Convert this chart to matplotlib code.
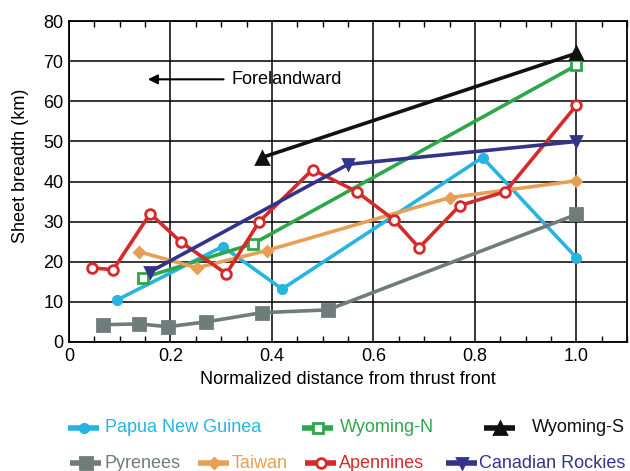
import matplotlib
matplotlib.use("Agg")
import matplotlib.pyplot as plt
from matplotlib.lines import Line2D
from matplotlib.ticker import MultipleLocator

plt.rcParams["font.family"] = ["Liberation Sans", "DejaVu Sans"]

# Sheet breadth vs normalized distance
png_x = [0.095, 0.303, 0.42, 0.815, 1.0]
png_y = [10.5, 23.8, 13.2, 46.0, 21.0]

wyn_x = [0.146, 0.363, 1.0]
wyn_y = [16.0, 24.5, 69.0]

wys_x = [0.38, 1.0]
wys_y = [46.0, 72.0]

pyr_x = [0.067, 0.138, 0.195, 0.27, 0.38, 0.51, 1.0]
pyr_y = [4.3, 4.5, 3.8, 5.0, 7.3, 8.0, 31.8]

tai_x = [0.138, 0.252, 0.39, 0.75, 1.0]
tai_y = [22.5, 18.5, 22.8, 36.0, 40.2]

ape_x = [0.045, 0.087, 0.16, 0.22, 0.31, 0.375, 0.48, 0.567, 0.64, 0.69, 0.77, 0.86, 1.0]
ape_y = [18.5, 18.0, 32.0, 25.0, 17.0, 30.0, 43.0, 37.5, 30.5, 23.5, 34.0, 37.5, 59.0]

can_x = [0.16, 0.55, 1.0]
can_y = [17.5, 44.3, 50.0]

series = [
    ("Papua New Guinea", png_x, png_y, "#27b4e0", "o", 6, True),
    ("Wyoming-N", wyn_x, wyn_y, "#2fa64a", "s", 7, False),
    ("Wyoming-S", wys_x, wys_y, "#111111", "^", 8, True),
    ("Pyrenees", pyr_x, pyr_y, "#6f7c7a", "s", 8, True),
    ("Taiwan", tai_x, tai_y, "#e69f55", "D", 5.5, True),
    ("Apennines", ape_x, ape_y, "#d42a2a", "o", 7, False),
    ("Canadian Rockies", can_x, can_y, "#34338a", "v", 7.5, True),
]

fig = plt.figure(figsize=(6.3, 4.71), dpi=100)
ax = fig.add_axes([0.1095, 0.274, 0.886, 0.681])

for name, xs, ys, col, mk, ms, filled in series:
    ax.plot(xs, ys, color=col, lw=2.6, marker=mk, ms=ms,
            mfc=col if filled else "white", mec=col, mew=2.0, zorder=3)

ax.set_xlim(0, 1.1)
ax.set_ylim(0, 80)
ax.xaxis.set_minor_locator(MultipleLocator(0.05))
ax.yaxis.set_major_locator(MultipleLocator(10))
ax.set_xticks([0, 0.2, 0.4, 0.6, 0.8, 1.0])
ax.set_xticklabels(["0", "0.2", "0.4", "0.6", "0.8", "1.0"])
ax.grid(True, which="major", color="black", lw=1.1, zorder=1)
ax.tick_params(which="both", direction="in", top=True, labelsize=13)
ax.tick_params(which="major", length=0, pad=4)
ax.tick_params(which="minor", length=4, width=1)
for sp in ax.spines.values():
    sp.set_linewidth(1.3)

ax.set_xlabel("Normalized distance from thrust front", fontsize=13, labelpad=5)
ax.set_ylabel("Sheet breadth (km)", fontsize=13)
ax.yaxis.set_label_coords(-0.072, 0.55)

ax.annotate("", xy=(0.15, 65.5), xytext=(0.31, 65.5),
            arrowprops=dict(arrowstyle="-|>", color="black", lw=1.5, mutation_scale=14))
ax.text(0.32, 65.5, "Forelandward", fontsize=13, va="center", ha="left")

# legend entries placed by hand, as in the original: (line start, text start, y)
leg_pos = {
    "Papua New Guinea": (68, 105, 428), "Wyoming-N": (302, 340, 428),
    "Wyoming-S": (484, 532, 428),
    "Pyrenees": (70, 105, 463), "Taiwan": (198, 232, 463),
    "Apennines": (305, 339, 463), "Canadian Rockies": (446, 479, 463),
}
W, H = 630, 471
for name, xs, ys, col, mk, ms, filled in series:
    px, tx, py = leg_pos[name]
    fx0, fx1, fy = px / W, (px + 31) / W, 1 - py / H
    fig.add_artist(Line2D([fx0, fx1], [fy, fy], transform=fig.transFigure,
                          color=col, lw=4, solid_capstyle="butt"))
    fig.add_artist(Line2D([(fx0 + fx1) / 2], [fy], transform=fig.transFigure,
                          color=col, marker=mk, ms=ms,
                          mfc=col if filled else "white", mec=col, mew=2))
    fig.text(tx / W, fy, name, color=col, fontsize=13, va="center", ha="left")

fig.savefig("out.png", dpi=100)
